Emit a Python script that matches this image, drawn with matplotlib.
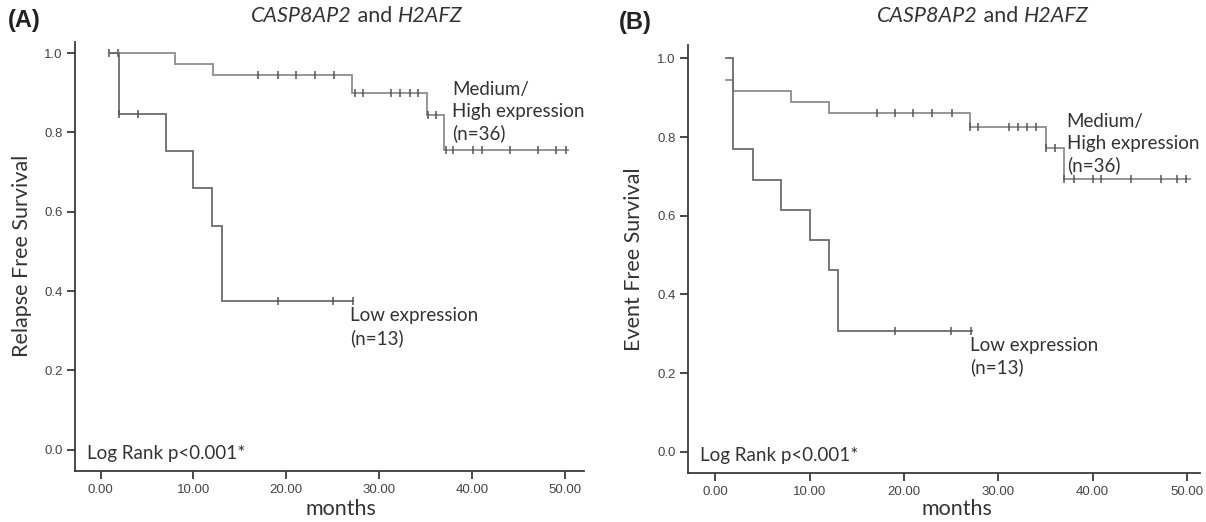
import numpy as np
import matplotlib
matplotlib.use("Agg")
import matplotlib.pyplot as plt

# ---------------- data (months, survival) ----------------
# Panel A: Relapse free survival
hiA_t = [0.9, 8.0, 12.1, 27.1, 35.2, 37.0, 50.4]
hiA_s = [1.000, 0.972, 0.944, 0.900, 0.844, 0.757, 0.757]
hiA_cens = [0.9, 1.9, 17.0, 19.1, 21.1, 23.1, 25.1, 27.4, 28.3, 31.3, 32.3, 33.3,
            34.2, 35.3, 36.1, 37.2, 38.0, 40.1, 41.1, 44.1, 47.1, 49.1, 50.2]
loA_t = [0.9, 2.0, 7.0, 10.0, 12.0, 13.1, 27.2]
loA_s = [1.000, 0.846, 0.753, 0.659, 0.564, 0.376, 0.376]
loA_cens = [2.0, 4.0, 19.1, 25.0, 27.2]

# Panel B: Event free survival
hiB_t = [1.1, 1.9, 8.0, 12.1, 27.0, 35.1, 37.0, 50.3]
hiB_s = [0.944, 0.917, 0.889, 0.861, 0.825, 0.771, 0.693, 0.693]
hiB_cens = [17.1, 19.0, 21.0, 23.0, 25.1, 27.0, 27.9, 31.1, 32.1, 33.1, 34.0,
            35.1, 36.0, 37.0, 38.0, 40.0, 40.9, 44.1, 47.3, 49.0, 49.9]
loB_t = [1.1, 1.9, 4.0, 7.0, 10.0, 12.0, 13.0, 27.2]
loB_s = [1.000, 0.769, 0.692, 0.615, 0.538, 0.462, 0.308, 0.308]
loB_cens = [19.0, 25.0, 27.1]

xticks = [0, 10, 20, 30, 40, 50]
xticklabels = ["0.00", "10.00", "20.00", "30.00", "40.00", "50.00"]
yticks = [0.0, 0.2, 0.4, 0.6, 0.8, 1.0]
yticklabels = ["0.0", "0.2", "0.4", "0.6", "0.8", "1.0"]

W, H = 1206, 522
fig = plt.figure(figsize=(W / 100, H / 100), dpi=100)

LABEL_FONT = ["Lato", "DejaVu Sans"]
TICK_FONT = ["Liberation Sans", "DejaVu Sans"]
HI_COL = "#8e8e8e"
LO_COL = "#6c6c6c"
CENS_COL = "#555555"


def px_axes(left, top, right, bottom):
    return fig.add_axes([left / W, 1 - bottom / H, (right - left) / W, (bottom - top) / H])


def surv_at(t, s, x):
    t = np.asarray(t)
    s = np.asarray(s)
    idx = np.searchsorted(t, x, side="right") - 1
    idx = np.clip(idx, 0, len(s) - 1)
    return s[idx]


def draw_curve(ax, t, s, cens, col):
    ax.step(t, s, where="post", color=col, lw=1.3, solid_joinstyle="miter")
    cy = surv_at(t, s, cens)
    ax.plot(cens, cy, ls="none", marker="|", ms=6, mew=1.1, color=CENS_COL)


def style_axes(ax, xlim, ylim):
    ax.set_xlim(*xlim)
    ax.set_ylim(*ylim)
    for sp in ["top", "right"]:
        ax.spines[sp].set_visible(False)
    for sp in ["left", "bottom"]:
        ax.spines[sp].set_color("#3a3a3a")
        ax.spines[sp].set_linewidth(1.3)
    ax.set_xticks(xticks)
    ax.set_xticklabels(xticklabels, fontfamily=TICK_FONT, fontsize=9.5, color="#444444")
    ax.set_yticks(yticks)
    ax.set_yticklabels(yticklabels, fontfamily=TICK_FONT, fontsize=9.5, color="#444444")
    ax.tick_params(axis="both", direction="out", length=6, width=1.3, color="#3a3a3a", pad=3)
    ax.set_facecolor("none")


def title(xc, yc, fs=15.5):
    t1 = fig.text(0, 0, "CASP8AP2", fontfamily=LABEL_FONT, style="italic", fontsize=fs,
                  color="#333333", va="center", ha="left")
    t2 = fig.text(0, 0, " and ", fontfamily=LABEL_FONT, fontsize=fs, color="#333333",
                  va="center", ha="left")
    t3 = fig.text(0, 0, "H2AFZ", fontfamily=LABEL_FONT, style="italic", fontsize=fs,
                  color="#333333", va="center", ha="left")
    fig.canvas.draw()
    r = fig.canvas.get_renderer()
    w1 = t1.get_window_extent(r).width
    w2 = t2.get_window_extent(r).width
    w3 = t3.get_window_extent(r).width
    x0 = xc - (w1 + w2 + w3) / 2
    yf = 1 - yc / H
    t1.set_position((x0 / W, yf))
    t2.set_position(((x0 + w1) / W, yf))
    t3.set_position(((x0 + w1 + w2) / W, yf))


def ftext(x, y, s, **kw):
    fig.text(x / W, 1 - y / H, s, **kw)


# ---------------- Panel A ----------------
axA = px_axes(75, 41.7, 584, 471.3)
draw_curve(axA, hiA_t, hiA_s, hiA_cens, HI_COL)
draw_curve(axA, loA_t, loA_s, loA_cens, LO_COL)
style_axes(axA, (-2.77, 52.1), (-0.0545, 1.029))

# ---------------- Panel B ----------------
axB = px_axes(688.3, 45, 1200, 473.2)
draw_curve(axB, hiB_t, hiB_s, hiB_cens, HI_COL)
draw_curve(axB, loB_t, loB_s, loB_cens, LO_COL)
style_axes(axB, (-2.87, 51.4), (-0.0545, 1.034))

lab = dict(fontfamily=LABEL_FONT, color="#333333")

# panel letters
ftext(8, 20, "(A)", fontfamily=TICK_FONT, fontweight="bold", fontsize=17, color="#222222", va="center")
ftext(619, 23, "(B)", fontfamily=TICK_FONT, fontweight="bold", fontsize=17, color="#222222", va="center")

# y labels
ftext(22, 256, "Relapse Free Survival", rotation=90, fontsize=15.5, va="center", ha="center", **lab)
ftext(634, 259, "Event Free Survival", rotation=90, fontsize=15.5, va="center", ha="center", **lab)

# x labels
ftext(341, 509, "months", fontsize=15.5, va="center", ha="center", **lab)
ftext(957, 509, "months", fontsize=15.5, va="center", ha="center", **lab)

# Log rank
ftext(87, 453, "Log Rank p<0.001*", fontsize=13.5, va="center", ha="left", **lab)
ftext(700, 455, "Log Rank p<0.001*", fontsize=13.5, va="center", ha="left", **lab)

# group labels panel A
for i, s in enumerate(["Medium/", "High expression", "(n=36)"]):
    ftext(452, 90 + 21.7 * i, s, fontsize=13.5, va="center", ha="left", **lab)
for i, s in enumerate(["Low expression", "(n=13)"]):
    ftext(350, 315 + 23 * i, s, fontsize=13.5, va="center", ha="left", **lab)

# group labels panel B
for i, s in enumerate(["Medium/", "High expression", "(n=36)"]):
    ftext(1066.7, 122 + 21.5 * i, s, fontsize=13.5, va="center", ha="left", **lab)
for i, s in enumerate(["Low expression", "(n=13)"]):
    ftext(970, 345 + 22 * i, s, fontsize=13.5, va="center", ha="left", **lab)

# titles
title(357, 16)
title(983, 16)

fig.savefig("out.png", dpi=100, facecolor="white")
